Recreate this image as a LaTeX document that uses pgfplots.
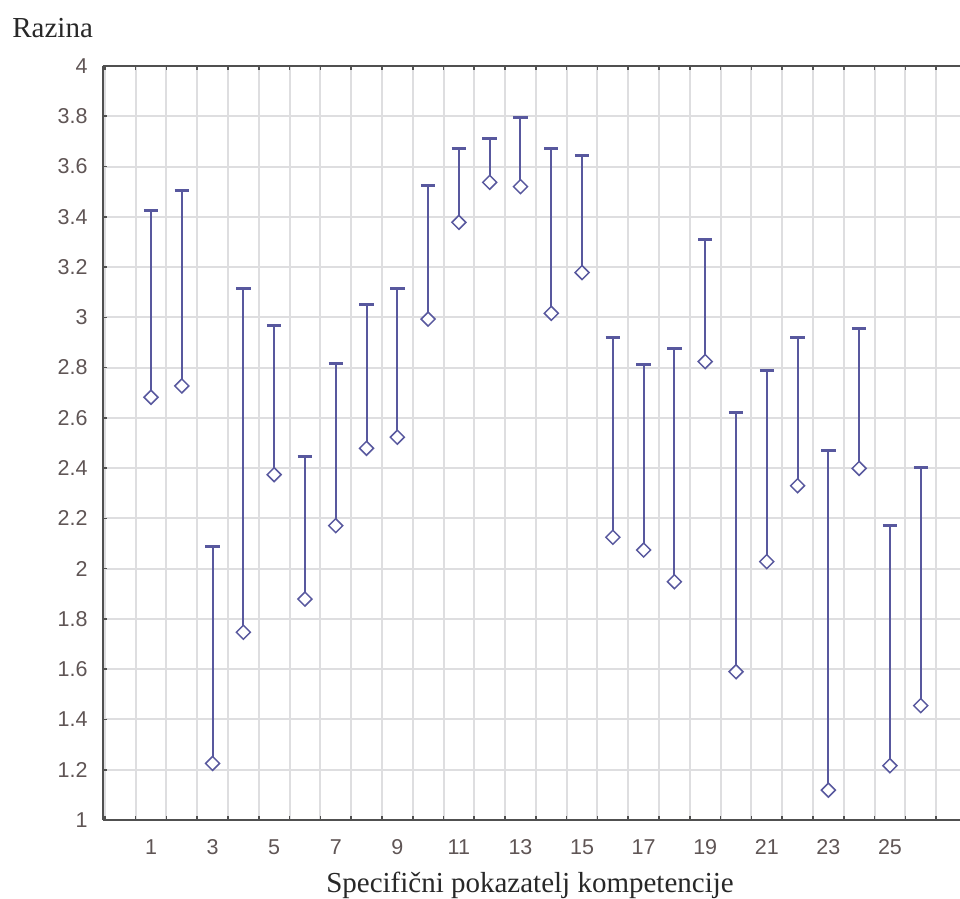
\documentclass[border=0pt]{standalone}
\usepackage{pgfplots}
\pgfplotsset{compat=1.18}
\usepackage{pgfplotstable}
\usepackage{fontspec}
\setmainfont{Liberation Serif}
\newfontfamily\ticksans{Liberation Sans}
\definecolor{seriesblue}{RGB}{88,88,158}
\definecolor{tickgray}{RGB}{95,85,85}
\definecolor{gridgray}{RGB}{222,222,224}
\definecolor{axisgray}{RGB}{80,80,80}

\pgfplotstableread{
x lo hi
1 2.682 3.424
2 2.727 3.504
3 1.225 2.090
4 1.747 3.115
5 2.374 2.966
6 1.879 2.446
7 2.171 2.817
8 2.479 3.053
9 2.523 3.115
10 2.993 3.523
11 3.378 3.670
12 3.537 3.712
13 3.520 3.796
14 3.016 3.670
15 3.178 3.643
16 2.125 2.920
17 2.074 2.814
18 1.948 2.877
19 2.824 3.308
20 1.590 2.621
21 2.028 2.788
22 2.330 2.920
23 1.119 2.472
24 2.399 2.956
25 1.216 2.170
26 1.455 2.402
}\datatable

\begin{document}
\begin{tikzpicture}
\begin{axis}[
  scale only axis,
  width=428.5pt, height=377pt,
  at={(0,0)}, anchor=south west,
  xmin=-0.559, xmax=27.275, ymin=1, ymax=4,
  axis x line=box, axis y line=left,
  every outer y axis line/.append style={-},
  y axis line style={-},
  axis line style={draw=axisgray, line width=1.2pt},
  tick align=inside,
  major tick length=2.2pt,
  tick style={draw=axisgray, line width=0.8pt},
  xtick={-0.5,0.5,...,27.5},
  xticklabels={,,,,,,,,,,,,,,,,,,,,,,,,,,,,,},
  extra x ticks={1,3,5,7,9,11,13,15,17,19,21,23,25},
  extra x tick labels={1,3,5,7,9,11,13,15,17,19,21,23,25},
  extra x tick style={grid=none, major tick length=0pt},
  ytick={1,1.2,1.4,1.6,1.8,2,2.2,2.4,2.6,2.8,3,3.2,3.4,3.6,3.8,4},
  xmajorgrids, ymajorgrids,
  grid style={draw=gridgray, line width=1pt},
  /pgf/number format/assume math mode=true,
  tick label style={font=\ticksans\fontsize{10.75}{12}\selectfont, text=tickgray},
  xticklabel style={anchor=north, inner sep=0pt, yshift=-9.5pt},
  yticklabel style={anchor=east, inner sep=0pt, xshift=-7.5pt},
]
\addplot[
  draw=none,
  mark=square*,
  mark size=2.47pt,
  mark options={rotate=45, draw=seriesblue, fill=white, line width=0.75pt},
  error bars/.cd,
    y dir=plus, y explicit,
    error bar style={draw=seriesblue, line width=1pt},
    error mark options={rotate=90, draw=seriesblue, line width=1.5pt, mark size=3.6pt},
] table[x=x, y=lo, y error expr=\thisrow{hi}-\thisrow{lo}] {\datatable};
\end{axis}
\node[anchor=base west, inner sep=0pt, font=\fontsize{14.5}{17}\selectfont, text={rgb,255:red,40;green,40;blue,40}] at (-45.5pt,391.25pt) {Razina};
\node[anchor=base, inner sep=0pt, font=\fontsize{14.5}{17}\selectfont, text={rgb,255:red,40;green,40;blue,40}] at (213.5pt,-36.5pt) {Specifični pokazatelj kompetencije};
\pgfresetboundingbox
\path[use as bounding box] (-51.5pt,-39.5pt) rectangle (428.5pt,410pt);
\end{tikzpicture}
\end{document}
